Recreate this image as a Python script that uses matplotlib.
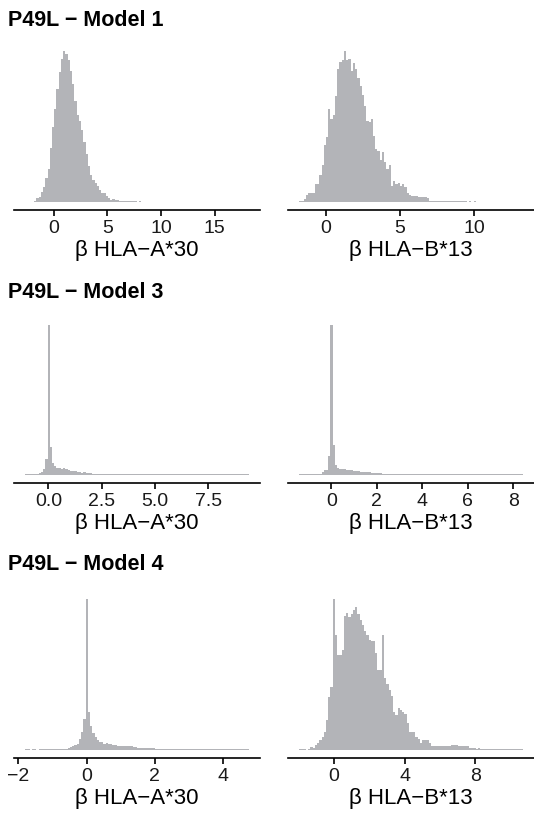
import matplotlib
matplotlib.use("Agg")
import matplotlib.pyplot as plt
import numpy as np

plt.rcParams['font.family'] = ['Liberation Sans', 'DejaVu Sans']

# ---------------- data (relative bin heights, 100 bins per panel) ----------------
titles = ["P49L \u2212 Model 1", "P49L \u2212 Model 3", "P49L \u2212 Model 4"]
xlabels = ["\u03b2 HLA\u2212A*30", "\u03b2 HLA\u2212B*13"]

# Model 1, HLA-A*30
m1_a30_range = (-2.64, 18.17)
m1_a30 = [0.6, 0.6, 0.5, 0.6, 0.7, 3, 3.5, 7, 10, 16,
          22, 36, 50, 62, 75, 86, 95, 100, 98, 94,
          87, 78, 67, 58, 54, 48, 40, 32, 24, 18,
          15, 13, 11, 8, 6, 6, 4.4, 2.7, 1.8, 2,
          1.8, 1.5, 1.2, 1.0, 0.9, 0.9, 0.8, 0.8, 0.7, 0.7,
          0.6, 0.7, 0.6, 0.5, 0.6, 0.5, 0.5, 0.6, 0.5, 0.5,
          0.5, 0.4, 0.5, 0.5, 0.4, 0.5, 0.4, 0.4, 0.5, 0.4,
          0.4, 0.4, 0.5, 0.4, 0.4, 0.3, 0.4, 0.4, 0.4, 0.3,
          0.4, 0.4, 0.3, 0.4, 0.3, 0.4, 0.3, 0.3, 0.4, 0.3,
          0.3, 0.3, 0.4, 0.3, 0.3, 0.3, 0.3, 0.3, 0.3, 0.4]

# Model 1, HLA-B*13
m1_b13_range = (-1.79, 13.25)
m1_b13 = [1, 1, 2, 4.7, 6, 6.2, 6.5, 12, 12.5, 18,
          25, 38, 43, 62, 55, 58, 70, 88, 93, 94,
          100, 94, 95, 87, 92, 88, 82, 77, 71, 64,
          54, 53, 55, 44, 35, 34, 28, 33, 27, 22,
          25, 11, 14, 12, 13, 11, 12, 10, 6, 5,
          4.5, 4.5, 4, 3.5, 3.5, 3.5, 3.5, 3, 1.2, 1.0,
          1.0, 0.9, 1.1, 0.8, 1.0, 0.7, 0.9, 0.8, 1.0, 0.7,
          0.7, 0.8, 0.7, 0.7, 0.7, 0.6, 0.7, 0.6, 0.7, 0.6,
          0.5, 0.6, 0.6, 0.5, 0.6, 0.5, 0.5, 0.6, 0.5, 0.5,
          0.5, 0.4, 0.5, 0.4, 0.4, 0.5, 0.4, 0.4, 0.4, 0.4]

# Model 3, HLA-A*30
m3_a30_range = (-1.09, 9.39)
m3_a30 = [0.5, 0.5, 0.5, 0.5, 0.8, 0.8, 1.5, 2, 4, 11,
          100, 19, 8, 6, 4.5, 4.4, 4.3, 4.5, 3.8, 3.3,
          3.0, 2.7, 2.5, 2.2, 2.3, 1.6, 2.0, 1.5, 1.4, 1.3,
          1.0, 0.9, 0.7, 0.9, 0.7, 0.7, 0.6, 0.6, 0.6, 0.6,
          0.6, 0.6, 0.6, 0.6, 0.6, 0.6, 0.5, 0.5, 0.5, 0.5,
          0.5, 0.5, 0.5, 0.5, 0.5, 0.5, 0.5, 0.4, 0.4, 0.4,
          0.4, 0.4, 0.4, 0.4, 0.4, 0.4, 0.4, 0.4, 0.4, 0.4,
          0.4, 0.4, 0.4, 0.4, 0.4, 0.4, 0.4, 0.4, 0.4, 0.4,
          0.4, 0.4, 0.4, 0.4, 0.4, 0.4, 0.4, 0.4, 0.4, 0.4,
          0.4, 0.4, 0.4, 0.4, 0.4, 0.4, 0.4, 0.4, 0.4, 0.5]

# Model 3, HLA-B*13
m3_b13_range = (-1.41, 8.41)
m3_b13 = [0.5, 0.5, 0.5, 0.5, 0.5, 0.5, 0.5, 0.7, 0.9, 0.6,
          1.8, 3.3, 3.5, 13, 100, 20, 6.7, 4.9, 4.0, 3.8,
          3.7, 3.2, 3.1, 3.3, 2.8, 2.7, 2.7, 2.2, 2.0, 2.0,
          2.0, 1.8, 1.6, 1.4, 1.3, 1.2, 1.1, 1.0, 0.9, 0.9,
          0.8, 0.7, 0.7, 0.6, 0.9, 0.9, 0.6, 0.6, 0.6, 0.6,
          0.6, 0.6, 0.6, 0.6, 0.5, 0.5, 0.5, 0.5, 0.5, 0.5,
          0.5, 0.5, 0.5, 0.5, 0.5, 0.5, 0.5, 0.5, 0.5, 0.5,
          0.5, 0.5, 0.5, 0.5, 0.5, 0.5, 0.5, 0.5, 0.5, 0.5,
          0.5, 0.5, 0.5, 0.5, 0.5, 0.5, 0.5, 0.5, 0.5, 0.5,
          0.5, 0.5, 0.5, 0.5, 0.5, 0.5, 0.5, 0.5, 0.5, 0.5]

# Model 4, HLA-A*30
m4_a30_range = (-1.80, 4.75)
m4_a30 = [0.5, 0.5, 0.2, 0.5, 0.5, 0.2, 0.5, 0.5, 0.5, 0.5,
          0.7, 0.7, 0.7, 0.7, 0.7, 0.7, 0.7, 0.7, 0.8, 1.2,
          1.8, 2.4, 3, 4, 7, 12, 20.7, 100, 25, 16,
          11, 8.5, 6.4, 5.5, 5, 4, 4.4, 4.2, 3.8, 3.5,
          3.2, 2.8, 2.6, 2.8, 2.6, 2.5, 2.8, 2.3, 2.2, 2.0,
          1.6, 1.5, 1.5, 1.4, 1.5, 1.4, 1.5, 1.3, 0.9, 0.9,
          0.8, 0.9, 0.8, 0.8, 0.9, 0.7, 0.8, 0.7, 0.7, 0.6,
          0.8, 0.6, 0.6, 0.6, 0.7, 0.6, 0.6, 0.6, 0.6, 0.6,
          0.5, 0.6, 0.6, 0.5, 0.6, 0.5, 0.5, 0.6, 0.5, 0.5,
          0.5, 0.5, 0.5, 0.5, 0.5, 0.5, 0.5, 0.5, 0.5, 0.5]

# Model 4, HLA-B*13
m4_b13_range = (-1.96, 10.68)
m4_b13 = [0.5, 0.5, 0.4, 0.3, 0.5, 2, 1.3, 3.5, 4.4, 6.6,
          8.8, 12, 20, 35, 42, 100, 76, 63, 63, 66,
          89, 91, 88, 90, 93, 95, 90, 86, 83, 79,
          76, 73, 72, 72, 64, 53, 53, 76, 47.5, 44,
          40, 36, 25, 23, 27.6, 26.5, 25, 24, 17.7, 12,
          12, 12, 8.8, 7.3, 4.9, 6.6, 6.6, 6.6, 4.4, 2.9,
          2.9, 2.9, 2.9, 2.9, 2.9, 2.6, 2.6, 2.6, 3.0, 3.0,
          3.0, 2.4, 2.4, 2.4, 2.4, 2.4, 1.2, 1.0, 1.1, 0.9,
          1.0, 0.8, 0.9, 0.7, 0.8, 0.7, 0.6, 0.8, 0.6, 0.7,
          0.6, 0.5, 0.6, 0.5, 0.5, 0.6, 0.5, 0.5, 0.5, 0.5]

ticks_m1_a30 = [0, 5, 10, 15]
ticks_m1_b13 = [0, 5, 10]
ticks_m3_a30 = [0.0, 2.5, 5.0, 7.5]
ticks_m3_b13 = [0, 2, 4, 6, 8]
ticks_m4_a30 = [-2, 0, 2, 4]
ticks_m4_b13 = [0, 4, 8]
ticklabels_m3_a30 = ["0.0", "2.5", "5.0", "7.5"]

# ---------------- layout ----------------
W, H = 534, 814
fig = plt.figure(figsize=(W / 100, H / 100), dpi=100)
bar_color = "#b3b4b8"

col_x = [(14, 260), (288, 534)]
row_y = [(43.5, 210), (317.5, 482.5), (591.5, 757.5)]
title_y = [20, 292, 564]

panels = [
    (0, 0, m1_a30_range, m1_a30, ticks_m1_a30, None),
    (0, 1, m1_b13_range, m1_b13, ticks_m1_b13, None),
    (1, 0, m3_a30_range, m3_a30, ticks_m3_a30, ticklabels_m3_a30),
    (1, 1, m3_b13_range, m3_b13, ticks_m3_b13, None),
    (2, 0, m4_a30_range, m4_a30, ticks_m4_a30, None),
    (2, 1, m4_b13_range, m4_b13, ticks_m4_b13, None),
]

for r, c, rng, counts, ticks, tlabels in panels:
    x0, x1 = col_x[c]
    yt, yb = row_y[r]
    ax = fig.add_axes([x0 / W, 1 - yb / H, (x1 - x0) / W, (yb - yt) / H])
    counts = np.asarray(counts, dtype=float)
    edges = np.linspace(rng[0], rng[1], len(counts) + 1)
    ax.stairs(counts, edges, fill=True, color=bar_color, linewidth=0)
    span = rng[1] - rng[0]
    ax.set_xlim(rng[0] - 0.05 * span, rng[1] + 0.05 * span)
    m = counts.max()
    ax.set_ylim(-0.05 * m, 1.05 * m)
    for s in ["left", "top", "right"]:
        ax.spines[s].set_visible(False)
    ax.spines["bottom"].set_linewidth(1.2)
    ax.spines["bottom"].set_color("black")
    ax.set_yticks([])
    ax.set_xticks(ticks)
    if tlabels is not None:
        ax.set_xticklabels(tlabels)
    else:
        ax.set_xticklabels([("\u2212" + str(abs(t))) if t < 0 else str(t) for t in ticks])
    ax.tick_params(axis="x", length=4, width=1.2, color="black",
                   labelsize=14, labelcolor="#1a1a1a", pad=3.5)
    ax.set_xlabel(xlabels[c], fontsize=16, color="black", labelpad=2)
    ax.patch.set_visible(False)

for r in range(3):
    fig.text(8 / W, 1 - title_y[r] / H, titles[r], fontsize=15.5, fontweight="bold",
             ha="left", va="center", color="black")

fig.savefig("out.png", dpi=100)
